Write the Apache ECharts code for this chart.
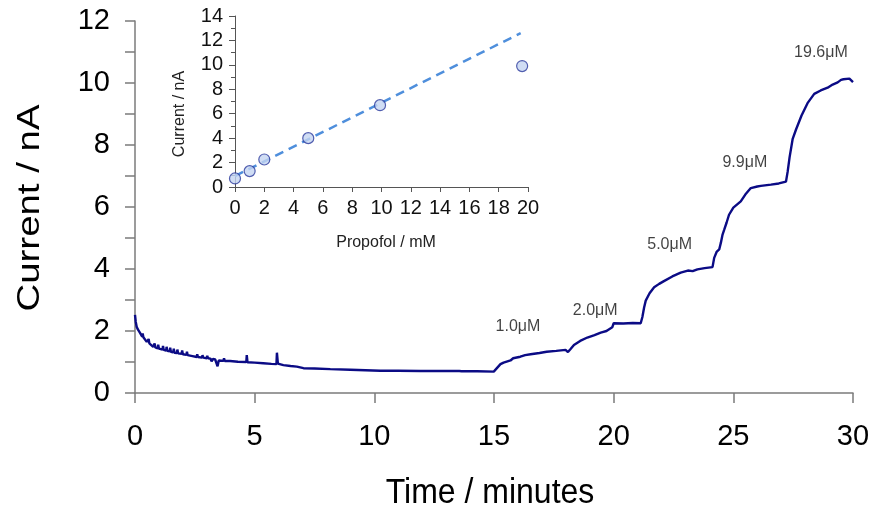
<!DOCTYPE html>
<html>
<head>
<meta charset="utf-8">
<script src="https://cdn.jsdelivr.net/npm/echarts@6/dist/echarts.min.js"></script>
<style>
html,body{margin:0;padding:0;background:#fff;}
#chart{width:877px;height:509px;}
</style>
</head>
<body>
<div id="chart"></div>
<script>
// Main trace: time (minutes) and current (nA)
const timeMin = [
0, 0.03, 0.07, 0.12, 0.21, 0.3, 0.32, 0.35, 0.49, 0.55, 0.57, 0.6, 0.76, 0.8, 0.82, 0.85, 0.95, 0.97, 1.0,
1.15, 1.17, 1.2, 1.3, 1.32, 1.35, 1.45, 1.47, 1.5, 1.6, 1.62, 1.65, 1.75, 1.77, 1.8, 1.95, 1.97, 2.0,
2.15, 2.17, 2.2, 2.4, 2.58, 2.6, 2.63, 2.8, 2.82, 2.85, 3.0, 3.02, 3.05, 3.15, 3.2, 3.25, 3.35, 3.42,
3.45, 3.5, 3.6, 3.7, 3.72, 3.75, 3.97, 4.3, 4.65, 4.67, 4.7, 5.0, 5.36, 5.7, 5.91, 5.93, 5.97, 6.2, 6.5,
6.76, 7.04, 7.5, 8.16, 9.0, 10.25, 11.0, 11.92, 12.8, 13.55, 13.6, 13.65, 14.3, 14.99,
15.06, 15.27, 15.4, 15.69, 15.8, 16.1, 16.3, 16.53, 16.9, 17.2, 17.6, 17.99, 18.09, 18.2, 18.34, 18.6, 18.9,
19.2, 19.46, 19.7, 19.94, 20.0, 20.4, 20.8, 21.13,
21.2, 21.27, 21.34, 21.5, 21.69, 21.9, 22.1, 22.45, 22.8, 23.1, 23.3, 23.5, 23.8, 24.13,
24.2, 24.3, 24.41, 24.48, 24.55, 24.62, 24.72, 24.82, 25.0, 25.31, 25.5, 25.73, 26.0, 26.15, 26.57, 26.9, 27.2,
27.27, 27.35, 27.48, 27.62, 27.85, 28.1, 28.38, 28.65, 28.94, 29.15, 29.36, 29.5, 29.6, 29.85, 30.0
];
const currentNA = [
2.52, 2.3, 2.14, 2.05, 1.94, 1.82, 1.92, 1.80, 1.65, 1.62, 1.74, 1.60, 1.49, 1.48, 1.60, 1.47, 1.44, 1.56, 1.43,
1.40, 1.52, 1.39, 1.37, 1.49, 1.36, 1.34, 1.46, 1.33, 1.31, 1.43, 1.30, 1.29, 1.40, 1.28, 1.26, 1.37, 1.25,
1.23, 1.33, 1.22, 1.19, 1.16, 1.25, 1.16, 1.14, 1.22, 1.14, 1.12, 1.20, 1.12, 1.11, 1.02, 1.10, 1.08, 1.06,
0.86, 1.05, 1.04, 1.04, 1.12, 1.03, 1.03, 1.01, 1.00, 1.22, 0.99, 0.98, 0.96, 0.94, 0.93, 1.30, 0.95, 0.90, 0.87,
0.85, 0.80, 0.79, 0.77, 0.75, 0.72, 0.72, 0.71, 0.71, 0.71, 0.76, 0.70, 0.70, 0.69,
0.75, 0.93, 0.98, 1.05, 1.12, 1.17, 1.22, 1.25, 1.29, 1.33, 1.36, 1.39, 1.32, 1.42, 1.55, 1.68, 1.79,
1.87, 1.95, 2.00, 2.12, 2.25, 2.24, 2.26, 2.25,
2.45, 2.75, 2.98, 3.22, 3.41, 3.52, 3.61, 3.76, 3.88, 3.95, 3.93, 3.99, 4.03, 4.06,
4.36, 4.55, 4.63, 4.85, 5.11, 5.27, 5.50, 5.75, 5.98, 6.18, 6.40, 6.61, 6.66, 6.68, 6.72, 6.76, 6.82,
7.14, 7.60, 8.20, 8.50, 8.95, 9.35, 9.65, 9.76, 9.85, 9.95, 10.02, 10.10, 10.12, 10.14, 10.03
];
// Concentration labels and where they sit (data coordinates)
const concLabels = ['1.0\u03BCM', '2.0\u03BCM', '5.0\u03BCM', '9.9\u03BCM', '19.6\u03BCM'];
const concLabelTime = [16.0, 19.23, 22.34, 25.48, 28.66];
const concLabelCurrent = [2.13, 2.65, 4.78, 7.44, 10.98];

// Inset calibration
const propofol = [0, 1, 2, 5, 9.9, 19.6];
const insetCurrent = [0.7, 1.3, 2.25, 4.0, 6.7, 9.9];
const fitX = [0, 19.5];
const fitY = [0.9, 12.6];

const mainTicksX = [0, 30, 5];
const mainTicksY = [0, 12, 2];
const insetTicksX = [0, 20, 2];
const insetTicksY = [0, 14, 2];

const FONT = "'Liberation Sans', Arial, sans-serif";
const axisGray = '#7b7b7b';

const chart = echarts.init(document.getElementById('chart'));
chart.setOption({
  animation: false,
  backgroundColor: '#ffffff',
  grid: [
    {left: 135, right: 24, top: 21, bottom: 116},
    {left: 235, top: 16, width: 293, height: 171}
  ],
  xAxis: [
    {
      gridIndex: 0, type: 'value', min: mainTicksX[0], max: mainTicksX[1], interval: mainTicksX[2],
      axisLine: {lineStyle: {color: axisGray, width: 1.5}},
      axisTick: {length: 10, lineStyle: {color: axisGray, width: 1.5}},
      splitLine: {show: false},
      axisLabel: {fontFamily: FONT, fontSize: 29, color: '#000', margin: 29}
    },
    {
      gridIndex: 1, type: 'value', min: insetTicksX[0], max: insetTicksX[1], interval: insetTicksX[2],
      axisLine: {lineStyle: {color: '#555', width: 1}},
      axisTick: {length: 5, lineStyle: {color: '#555', width: 1}},
      splitLine: {show: false},
      axisLabel: {fontFamily: FONT, fontSize: 20, color: '#111', margin: 11}
    }
  ],
  yAxis: [
    {
      gridIndex: 0, type: 'value', min: mainTicksY[0], max: mainTicksY[1], interval: mainTicksY[2],
      axisLine: {show: true, lineStyle: {color: axisGray, width: 1.5}},
      axisTick: {show: true, length: 10, lineStyle: {color: axisGray, width: 1.5}},
      minorTick: {show: true, splitNumber: 2, length: 10, lineStyle: {color: axisGray, width: 1.5}},
      splitLine: {show: false},
      axisLabel: {fontFamily: FONT, fontSize: 29, color: '#000', margin: 25}
    },
    {
      gridIndex: 1, type: 'value', min: insetTicksY[0], max: insetTicksY[1], interval: insetTicksY[2],
      axisLine: {show: true, lineStyle: {color: '#555', width: 1}},
      axisTick: {show: true, length: 6, lineStyle: {color: '#555', width: 1}},
      minorTick: {show: true, splitNumber: 2, length: 4, lineStyle: {color: '#555', width: 1}},
      splitLine: {show: false},
      axisLabel: {fontFamily: FONT, fontSize: 20, color: '#111', margin: 12}
    }
  ],
  graphic: [
    {type: 'text', x: 490, y: 493, scaleY: 1.1, style: {text: 'Time / minutes', font: "32px " + FONT, fill: '#000', textAlign: 'center', textVerticalAlign: 'middle'}},
    {type: 'text', x: 30, y: 208, rotation: Math.PI / 2, scaleX: 1.2, style: {text: 'Current / nA', font: "32px " + FONT, fill: '#000', textAlign: 'center', textVerticalAlign: 'middle'}},
    {type: 'text', x: 386, y: 243, style: {text: 'Propofol / mM', font: "16px " + FONT, fill: '#222', textAlign: 'center', textVerticalAlign: 'middle'}},
    {type: 'text', x: 180, y: 114, rotation: Math.PI / 2, style: {text: 'Current / nA', font: "16px " + FONT, fill: '#222', textAlign: 'center', textVerticalAlign: 'middle'}}
  ],
  series: [
    {
      type: 'line', xAxisIndex: 0, yAxisIndex: 0, showSymbol: false, symbol: 'none',
      data: timeMin.map((t, i) => [t, currentNA[i]]),
      lineStyle: {color: '#0b0b85', width: 2.4},
      z: 2
    },
    {
      type: 'scatter', xAxisIndex: 0, yAxisIndex: 0, symbolSize: 0,
      data: concLabelTime.map((t, i) => ({value: [t, concLabelCurrent[i]], label: {formatter: concLabels[i]}})),
      label: {show: true, position: 'inside', fontFamily: FONT, fontSize: 16, color: '#111'},
      silent: true
    },
    {
      type: 'line', xAxisIndex: 1, yAxisIndex: 1, symbol: 'none',
      data: fitX.map((x, i) => [x, fitY[i]]),
      lineStyle: {color: '#4f8fdc', width: 2.5, type: [9, 6]},
      z: 3
    },
    {
      type: 'scatter', xAxisIndex: 1, yAxisIndex: 1, symbol: 'circle', symbolSize: 11,
      data: propofol.map((x, i) => [x, insetCurrent[i]]),
      itemStyle: {color: '#c4d4f1', borderColor: '#2b3a9c', borderWidth: 1.2},
      z: 4
    }
  ]
});
</script>
</body>
</html>
